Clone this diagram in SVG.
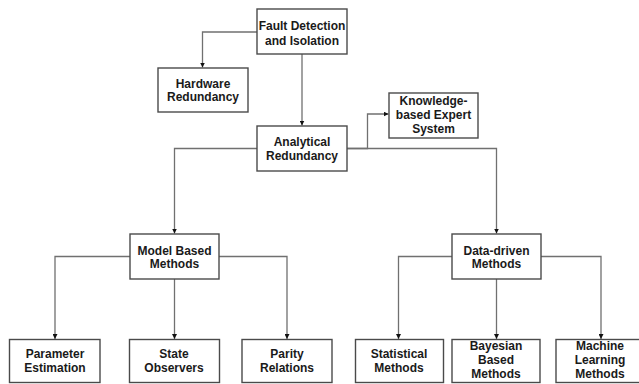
<svg xmlns="http://www.w3.org/2000/svg" width="639" height="384" viewBox="0 0 639 384">
<style>
.box{fill:#fff;stroke:#4a4a4a;stroke-width:1.4}
.t{font-family:"Liberation Sans",Arial,sans-serif;font-weight:bold;font-size:12px;fill:#1a1a1a;text-anchor:middle}
.c{fill:none;stroke:#707070;stroke-width:1.3}
</style>
<defs>
<marker id="ah" viewBox="0 0 10 10" refX="10" refY="5" markerWidth="5" markerHeight="5" markerUnits="userSpaceOnUse" orient="auto">
<path d="M0,0 L10,5 L0,10 z" fill="#111"/>
</marker>
</defs>
<rect width="639" height="384" fill="#fff"/>
<g id="connectors">
<path class="c" d="M257,32 H202.5 V67.5" marker-end="url(#ah)"/>
<path class="c" d="M302,54 V125.5" marker-end="url(#ah)"/>
<path class="c" d="M347,148.5 H367.5 V114 H388.5" marker-end="url(#ah)"/>
<path class="c" d="M347,148.5 H496.5 V233.5" marker-end="url(#ah)"/>
<path class="c" d="M257,148.5 H174.5 V233.5" marker-end="url(#ah)"/>
<path class="c" d="M130,256.5 H55 V339" marker-end="url(#ah)"/>
<path class="c" d="M174.5,279 V339" marker-end="url(#ah)"/>
<path class="c" d="M219,256.5 H287 V339" marker-end="url(#ah)"/>
<path class="c" d="M452,256.5 H398.5 V339" marker-end="url(#ah)"/>
<path class="c" d="M496.5,279 V339" marker-end="url(#ah)"/>
<path class="c" d="M541,256.5 H601 V339" marker-end="url(#ah)"/>
</g>
<g id="fdi"><rect class="box" x="257" y="9" width="90" height="45"/>
<text class="t" x="302" y="30">Fault Detection</text><text class="t" x="302" y="44.5">and Isolation</text></g>
<g id="hardware"><rect class="box" x="158" y="68" width="90" height="44"/>
<text class="t" x="203" y="87.5">Hardware</text><text class="t" x="203" y="101">Redundancy</text></g>
<g id="analytical"><rect class="box" x="257" y="126" width="90" height="45"/>
<text class="t" x="302" y="146">Analytical</text><text class="t" x="302" y="159.5">Redundancy</text></g>
<g id="knowledge"><rect class="box" x="389" y="93" width="89" height="45"/>
<text class="t" x="433.5" y="105">Knowledge-</text><text class="t" x="433.5" y="118.5">based Expert</text><text class="t" x="433.5" y="132.5">System</text></g>
<g id="model"><rect class="box" x="130" y="234" width="89" height="45"/>
<text class="t" x="174.5" y="254.5">Model Based</text><text class="t" x="174.5" y="268">Methods</text></g>
<g id="data"><rect class="box" x="452" y="234" width="89" height="45"/>
<text class="t" x="496.5" y="254.5">Data-driven</text><text class="t" x="496.5" y="268">Methods</text></g>
<g id="param"><rect class="box" x="9.5" y="339.5" width="90.5" height="43"/>
<text class="t" x="55" y="357.5">Parameter</text><text class="t" x="55" y="371.5">Estimation</text></g>
<g id="state"><rect class="box" x="129.5" y="339.5" width="90" height="43"/>
<text class="t" x="174" y="357.5">State</text><text class="t" x="174" y="371.5">Observers</text></g>
<g id="parity"><rect class="box" x="242" y="339.5" width="90" height="43"/>
<text class="t" x="287" y="357.5">Parity</text><text class="t" x="287" y="371.5">Relations</text></g>
<g id="statistical"><rect class="box" x="355.5" y="339.5" width="88" height="43"/>
<text class="t" x="399" y="357.5">Statistical</text><text class="t" x="399" y="371.5">Methods</text></g>
<g id="bayesian"><rect class="box" x="452" y="339.5" width="88" height="43"/>
<text class="t" x="496" y="349.5">Bayesian</text><text class="t" x="496" y="363.5">Based</text><text class="t" x="496" y="377.5">Methods</text></g>
<g id="machine"><rect class="box" x="556" y="339.5" width="90" height="43"/>
<text class="t" x="600" y="349.5">Machine</text><text class="t" x="600" y="363.5">Learning</text><text class="t" x="600" y="377.5">Methods</text></g>
</svg>
